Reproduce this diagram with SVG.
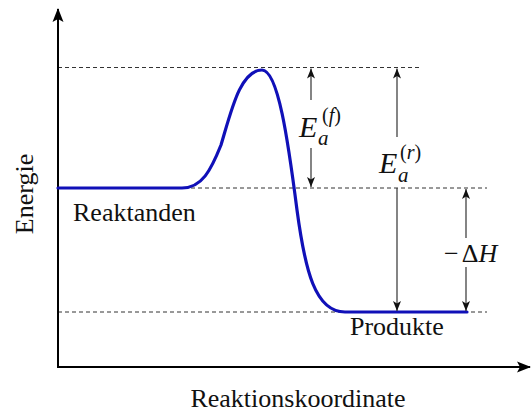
<svg xmlns="http://www.w3.org/2000/svg" width="532" height="414" viewBox="0 0 532 414">
<style>
text{font-family:"Liberation Serif","Times New Roman",serif;fill:#111}
.lbl{font-size:26px}
.it{font-style:italic}
.guide{stroke:#333;stroke-width:1;stroke-dasharray:4 3;fill:none}
.dim{stroke:#333;stroke-width:1.2;fill:none;marker-end:url(#ah)}
.axis{stroke:#000;stroke-width:2;fill:none;marker-end:url(#axh)}
.curve{stroke:#1010b8;stroke-width:3.2;fill:none;stroke-linejoin:round;stroke-linecap:round}
</style>
<defs>
<marker id="ah" markerUnits="userSpaceOnUse" markerWidth="10" markerHeight="10" viewBox="0 0 10 10" refX="10" refY="5" orient="auto">
<path d="M0,1 L10,5 L0,9 L2.5,5 z" fill="#111"/>
</marker>
<marker id="axh" markerUnits="userSpaceOnUse" markerWidth="14" markerHeight="12" viewBox="0 0 14 12" refX="13" refY="6" orient="auto">
<path d="M0,0.5 L14,6 L0,11.5 L3,6 z" fill="#000"/>
</marker>
</defs>
<g id="guides">
<line class="guide" x1="58" y1="67.5" x2="419" y2="67.5"/>
<line class="guide" x1="58" y1="188" x2="487" y2="188"/>
<line class="guide" x1="58" y1="312" x2="487" y2="312"/>
</g>
<g id="axes">
<line class="axis" x1="58" y1="367" x2="58" y2="9"/>
<line class="axis" x1="57" y1="367" x2="530" y2="367"/>
</g>
<g id="curve">
<path class="curve" d="M58,188 L182,188 C202,188 211,170 221,145 C231,112 240,70 262,70 C278,70 288,140 297,210 C305,270 315,312 345,312 L467,312"/>
</g>
<g id="connectors">
<line class="dim" x1="311" y1="100" x2="311" y2="68.5"/>
<line class="dim" x1="311" y1="148" x2="311" y2="187"/>
<line class="dim" x1="397" y1="137" x2="397" y2="68.5"/>
<line class="dim" x1="397" y1="188" x2="397" y2="311"/>
<line class="dim" x1="466" y1="238" x2="466" y2="189"/>
<line class="dim" x1="466" y1="267" x2="466" y2="311"/>
</g>
<g id="label-reaktanden"><text class="lbl" x="73" y="221">Reaktanden</text></g>
<g id="label-produkte"><text class="lbl" x="350" y="335">Produkte</text></g>
<g id="label-xaxis"><text class="lbl" x="298" y="407" text-anchor="middle">Reaktionskoordinate</text></g>
<g id="label-yaxis"><text class="lbl" transform="translate(33,194) rotate(-90)" text-anchor="middle" font-size="25">Energie</text></g>
<g id="label-eaf">
<text x="299" y="137" class="it" font-size="30">E</text>
<text x="318" y="145" class="it" font-size="21">a</text>
<text x="322" y="122" font-size="20">(<tspan class="it">f</tspan>)</text>
</g>
<g id="label-ear">
<text x="379" y="173" class="it" font-size="30">E</text>
<text x="398" y="182" class="it" font-size="21">a</text>
<text x="400" y="159" font-size="20">(<tspan class="it">r</tspan>)</text>
</g>
<g id="label-dh">
<text x="444" y="262" font-size="26">−<tspan dx="3">Δ</tspan><tspan class="it">H</tspan></text>
</g>
</svg>
